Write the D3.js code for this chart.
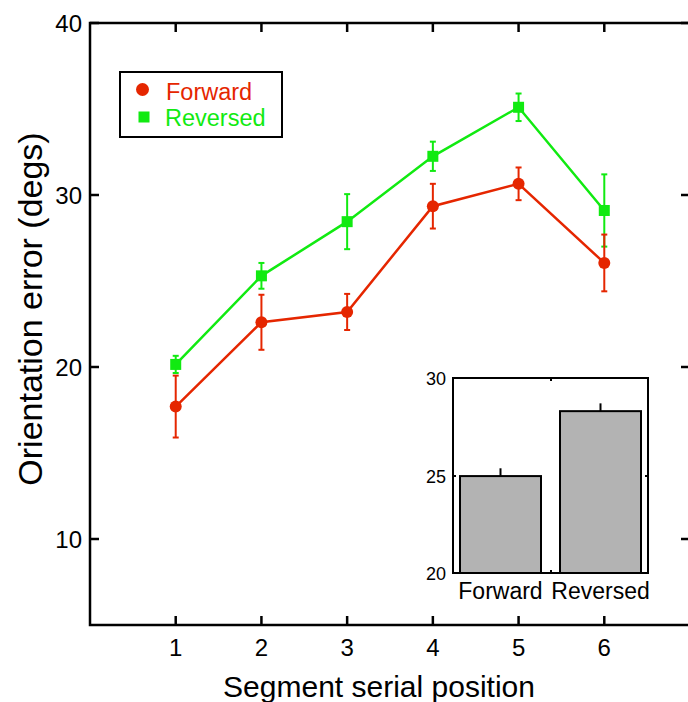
<!DOCTYPE html>
<html>
<head>
<meta charset="utf-8">
<script src="https://cdn.jsdelivr.net/npm/d3@7"></script>
<style>
  body { margin: 0; background: #fff; }
  text { font-family: "Liberation Sans", Arial, sans-serif; }
</style>
</head>
<body>
<svg width="688" height="702"></svg>
<script>
// serial positions
let positions = [1, 2, 3, 4, 5, 6];

// mean orientation error (degs) and error bar half-lengths
let forward = [17.7, 22.6, 23.2, 29.35, 30.65, 26.05];
let forwardErr = [1.8, 1.6, 1.05, 1.3, 0.95, 1.65];
let reversed = [20.15, 25.3, 28.45, 32.25, 35.1, 29.1];
let reversedErr = [0.5, 0.75, 1.6, 0.85, 0.8, 2.1];

let yTicks = [10, 20, 30, 40];

// inset bar chart
let insetCats = ['Forward', 'Reversed'];
let insetVals = [24.97, 28.3];
let insetErr = [0.4, 0.4];
let insetTicks = [20, 25, 30];

let red = '#e52600', green = '#11ea11';

let svg = d3.select('svg');

let x = d3.scaleLinear().domain([0, 7]).range([90, 690]);
let y = d3.scaleLinear().domain([5, 40]).range([625, 23]);

// frame
let frame = svg.append('g')
    .attr('fill', 'none')
    .attr('stroke', '#000')
    .attr('stroke-width', 2.5);
frame.append('path')
    .attr('d', 'M' + x(7) + ',' + y(40) + 'H' + x(0) + 'V' + y(5) + 'H' + x(7) + 'V' + y(40));

let tl = 9;
let ticks = svg.append('g').attr('stroke', '#000').attr('stroke-width', 2.5);
positions.forEach(p => {
    ticks.append('line').attr('x1', x(p)).attr('x2', x(p)).attr('y1', y(5)).attr('y2', y(5) - tl);
    ticks.append('line').attr('x1', x(p)).attr('x2', x(p)).attr('y1', y(40)).attr('y2', y(40) + tl);
});
yTicks.forEach(v => {
    ticks.append('line').attr('x1', x(0)).attr('x2', x(0) + tl).attr('y1', y(v)).attr('y2', y(v));
    ticks.append('line').attr('x1', x(7)).attr('x2', x(7) - tl).attr('y1', y(v)).attr('y2', y(v));
});

svg.append('g').selectAll('text')
    .data(positions).enter().append('text')
    .attr('x', d => x(d))
    .attr('y', 656)
    .attr('text-anchor', 'middle')
    .attr('font-size', 24)
    .text(d => d);

svg.append('g').selectAll('text')
    .data(yTicks).enter().append('text')
    .attr('x', 82)
    .attr('y', d => y(d) + 9)
    .attr('text-anchor', 'end')
    .attr('font-size', 24)
    .text(d => d);

svg.append('text')
    .attr('x', 379)
    .attr('y', 697)
    .attr('text-anchor', 'middle')
    .attr('font-size', 30)
    .text('Segment serial position');

svg.append('text')
    .attr('transform', 'translate(42,309) rotate(-90)')
    .attr('text-anchor', 'middle')
    .attr('font-size', 34)
    .text('Orientation error (degs)');

// series
function drawSeries(vals, errs, color, shape) {
    let g = svg.append('g');
    let line = d3.line().x((d, i) => x(positions[i])).y(d => y(d));
    g.append('path')
        .attr('d', line(vals))
        .attr('fill', 'none')
        .attr('stroke', color)
        .attr('stroke-width', 2.5);
    vals.forEach((v, i) => {
        let px = x(positions[i]);
        let e = g.append('g').attr('stroke', color).attr('stroke-width', 2);
        e.append('line').attr('x1', px).attr('x2', px).attr('y1', y(v - errs[i])).attr('y2', y(v + errs[i]));
        e.append('line').attr('x1', px - 3).attr('x2', px + 3).attr('y1', y(v - errs[i])).attr('y2', y(v - errs[i]));
        e.append('line').attr('x1', px - 3).attr('x2', px + 3).attr('y1', y(v + errs[i])).attr('y2', y(v + errs[i]));
        if (shape === 'circle') {
            g.append('circle').attr('cx', px).attr('cy', y(v)).attr('r', 6).attr('fill', color);
        } else {
            g.append('rect').attr('x', px - 5.5).attr('y', y(v) - 5.5).attr('width', 11).attr('height', 11).attr('fill', color);
        }
    });
}
drawSeries(reversed, reversedErr, green, 'square');
drawSeries(forward, forwardErr, red, 'circle');

// legend
let lg = svg.append('g');
lg.append('rect').attr('x', 120).attr('y', 72).attr('width', 162).attr('height', 65)
    .attr('fill', '#fff').attr('stroke', '#000').attr('stroke-width', 2);
lg.append('circle').attr('cx', 142.5).attr('cy', 89.5).attr('r', 6.5).attr('fill', red);
lg.append('rect').attr('x', 138.5).attr('y', 111.5).attr('width', 11).attr('height', 11).attr('fill', green);
lg.append('text').attr('x', 166).attr('y', 100).attr('font-size', 23.5).attr('fill', red).text('Forward');
lg.append('text').attr('x', 165).attr('y', 126).attr('font-size', 23.5).attr('fill', green).text('Reversed');

// inset
let ix = d3.scaleBand().domain(insetCats).range([453, 648]).paddingInner(0.19).paddingOuter(0.07);
let iy = d3.scaleLinear().domain([20, 30]).range([573, 378]);
let inset = svg.append('g');
inset.append('rect').attr('x', 453).attr('y', 378).attr('width', 195).attr('height', 195)
    .attr('fill', '#fff');
inset.selectAll('.bar').data(insetVals).enter().append('rect')
    .attr('x', (d, i) => ix(insetCats[i]))
    .attr('y', d => iy(d))
    .attr('width', ix.bandwidth())
    .attr('height', d => iy(20) - iy(d))
    .attr('fill', '#b3b3b3')
    .attr('stroke', '#000')
    .attr('stroke-width', 2);
inset.selectAll('.err').data(insetVals).enter().append('line')
    .attr('x1', (d, i) => ix(insetCats[i]) + ix.bandwidth() / 2)
    .attr('x2', (d, i) => ix(insetCats[i]) + ix.bandwidth() / 2)
    .attr('y1', d => iy(d))
    .attr('y2', (d, i) => iy(d + insetErr[i]))
    .attr('stroke', '#000').attr('stroke-width', 2);
inset.append('rect').attr('x', 453).attr('y', 378).attr('width', 195).attr('height', 195)
    .attr('fill', 'none').attr('stroke', '#000').attr('stroke-width', 2);
inset.append('g').attr('stroke', '#000').attr('stroke-width', 2)
    .selectAll('line').data([[551, 378, 551, 381], [551, 573, 551, 570], [648, 476, 645, 476], [453, 476, 456, 476]])
    .enter().append('line')
    .attr('x1', d => d[0]).attr('y1', d => d[1]).attr('x2', d => d[2]).attr('y2', d => d[3]);
inset.selectAll('.yt').data(insetTicks).enter().append('text')
    .attr('x', 446)
    .attr('y', d => iy(d) + 7)
    .attr('text-anchor', 'end')
    .attr('font-size', 18)
    .text(d => d);
inset.selectAll('.xt').data(insetCats).enter().append('text')
    .attr('x', d => ix(d) + ix.bandwidth() / 2)
    .attr('y', 599)
    .attr('text-anchor', 'middle')
    .attr('font-size', 23)
    .text(d => d);
</script>
</body>
</html>
